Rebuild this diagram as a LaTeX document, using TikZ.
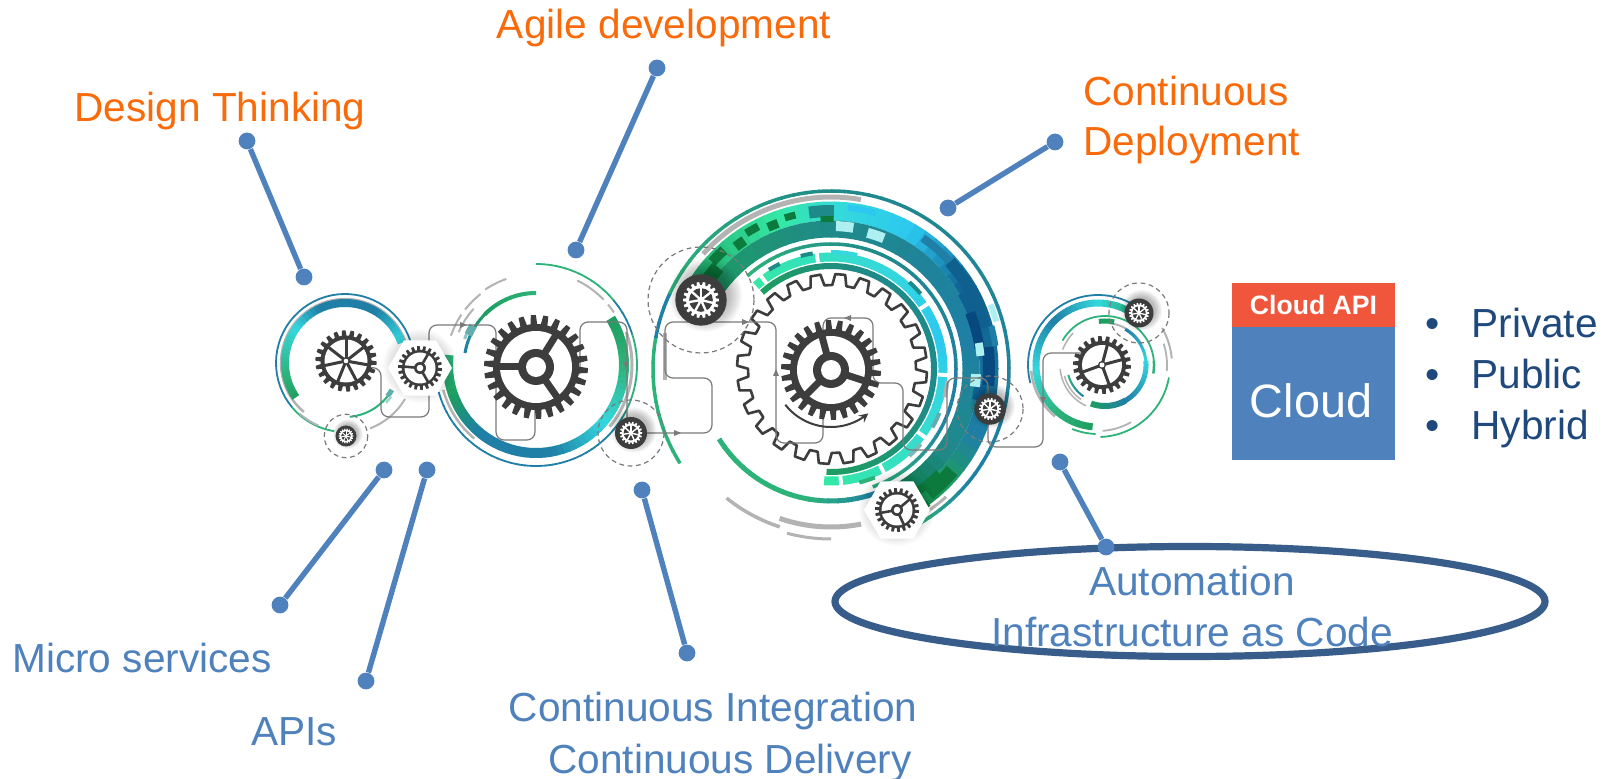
\documentclass[tikz,border=0pt]{standalone}
\usepackage{fontspec}
\setmainfont{Liberation Sans}
\usetikzlibrary{shapes.geometric}
\definecolor{dk}{HTML}{3D3D3D}
\definecolor{orng}{HTML}{F96A0A}
\definecolor{blu}{HTML}{4F81BD}
\definecolor{navy}{HTML}{1F497D}
\definecolor{ell}{HTML}{385D8A}
\definecolor{red1}{HTML}{F0563C}
\definecolor{gr}{HTML}{2DB37A}
\definecolor{grd}{HTML}{1E9E60}
\definecolor{grv}{HTML}{0C7A3C}
\definecolor{grl}{HTML}{34E8A4}
\definecolor{tl}{HTML}{1F8A8A}
\definecolor{tb}{HTML}{1F7FA6}
\definecolor{bl}{HTML}{0F5F8F}
\definecolor{bd}{HTML}{07497F}
\definecolor{cy}{HTML}{35D8DE}
\definecolor{cs}{HTML}{2CC8F0}
\definecolor{gy}{HTML}{B3B3B3}
\definecolor{ln}{HTML}{7A7A7A}
\tikzset{
  lbl/.style={inner sep=0pt,font=\fontsize{20.3}{24}\selectfont},
  pindot/.style={circle,fill=blu,inner sep=0pt,minimum size=8.4pt},
  pinline/.style={draw=blu,line width=2.7pt},
  wire/.style={draw=ln,line width=.6pt,rounded corners=4pt},
  dashc/.style={draw=ln,line width=.6pt,dash pattern=on 2.4pt off 1.8pt}
}
\newcommand{\setc}[2]{\def\cx{#1}\def\cy{#2}}
\newcommand{\sa}[5]{\draw[line width=#2*0.5pt,color=#5,line cap=butt] plot[domain=#3:#4,samples=40] ({\cx+#1*cos(\x)},{\cy+#1*sin(\x)});}
\newcommand{\bk}[5]{\draw[line width=#2*0.5pt,color=#5,line cap=butt] plot[domain=#3:#4,samples=6] ({\cx+#1*cos(\x)},{\cy+#1*sin(\x)});}
\newcommand{\ga}[6]{%
  \pgfmathtruncatemacro\nseg{max(1,abs(#4-#3)/4)}%
  \foreach \k in {1,...,\nseg}{%
    \pgfmathsetmacro\aA{#3+(#4-#3)*(\k-1)/\nseg}%
    \pgfmathsetmacro\aB{#3+(#4-#3)*\k/\nseg+0.5*(#4-#3)/abs(#4-#3)}%
    \pgfmathtruncatemacro\pc{100*(\k-.5)/\nseg}%
    \draw[line width=#2*0.5pt,color=#6!\pc!#5,line cap=butt] plot[domain=\aA:\aB,samples=4] ({\cx+#1*cos(\x)},{\cy+#1*sin(\x)});
  }}
\newcommand{\teeth}[7]{%
  \pgfmathsetmacro\st{360/#6}%
  \pgfmathtruncatemacro\lastt{#6-1}%
  \path[#1] ({#2+#5*cos(#7-.32*\st)},{#3+#5*sin(#7-.32*\st)})
  \foreach \i [evaluate=\i as \a using #7+\i*\st] in {0,...,\lastt}{
    -- ({#2+#5*cos(\a-.32*\st)},{#3+#5*sin(\a-.32*\st)})
    -- ({#2+#4*cos(\a-.2*\st)},{#3+#4*sin(\a-.2*\st)})
    -- ({#2+#4*cos(\a+.2*\st)},{#3+#4*sin(\a+.2*\st)})
    -- ({#2+#5*cos(\a+.32*\st)},{#3+#5*sin(\a+.32*\st)})
  } -- cycle;}
\newcommand{\gear}[9]{%
  \teeth{fill=dk}{#1}{#2}{#3}{#4}{#6}{4}
  \fill[white] (#1,#2) circle[radius=#5];
  \def\gx{#1}\def\gy{#2}\def\gi{#5}\def\gh{#7}\def\gw{#9}\def\gk{#8}\gearb}
\newcommand{\gearb}[1]{%
  \foreach \s in {#1}{\draw[dk,line width=\gw*0.5pt] (\gx,\gy) -- ({\gx+(\gi+1)*cos(\s)},{\gy+(\gi+1)*sin(\s)});}
  \fill[dk] (\gx,\gy) circle[radius=\gh];
  \fill[white] (\gx,\gy) circle[radius=\gk];}
\newcommand{\shadowat}[3]{%
  \foreach \q in {1,...,8}{\fill[black,opacity=.035] ({#1+#3*.18},{#2-#3*.18}) circle[radius={#3*(.85+\q*.07)}];}}
\newcommand{\wheel}[3]{%
  \shadowat{#1}{#2}{#3}
  \fill[dk] (#1,#2) circle[radius=#3];
  \pgfmathsetmacro\ro{#3*.70}\pgfmathsetmacro\rr{#3*.58}\pgfmathsetmacro\ri{#3*.46}
  \teeth{fill=white}{#1}{#2}{\ro}{\rr}{18}{0}
  \fill[dk] (#1,#2) circle[radius=\ri];
  \foreach \s in {270,322,14,66,118,170,222}{\draw[white,line width=#3*.045pt] (#1,#2) -- ({#1+\ri*1.05*cos(\s)},{#2+\ri*1.05*sin(\s)});}
  \fill[white] (#1,#2) circle[radius={#3*.13}];}
\newcommand{\hexa}[3]{%
  \foreach \q in {1,...,6}{\fill[black,opacity=.02] ({#1},{#2-2}) circle[radius={#3*(.85+\q*.05)}];}
  \fill[white] ({#1+#3},#2) -- ({#1+#3*.5},{#2+#3*.866}) -- ({#1-#3*.5},{#2+#3*.866}) -- ({#1-#3},#2) -- ({#1-#3*.5},{#2-#3*.866}) -- ({#1+#3*.5},{#2-#3*.866}) -- cycle;}
\newcommand{\tri}[3]{\fill[ln,shift={(#1,#2)},rotate=#3] (4,0) -- (-3,-3) -- (-3,3) -- cycle;}
\begin{document}
\begin{tikzpicture}[x=0.5pt,y=-0.5pt]
\useasboundingbox (0,0) rectangle (1604,779);
\fill[white] (0,0) rectangle (1604,779);

\setc{831}{369}
\ga{178}{3.5}{148}{190}{gr}{gr}
\ga{178}{3.5}{190}{205}{tb}{tb}
\ga{178}{3.5}{205}{270}{gr}{tl}
\ga{178}{3.5}{270}{400}{tl}{tb}
\ga{178}{3.5}{400}{420}{tb}{gr}
\ga{158}{19}{205}{250}{grd}{grl}
\ga{158}{19}{250}{275}{grl}{cy}
\ga{158}{19}{275}{300}{cy}{cs}
\ga{158}{19}{300}{330}{cs}{bl}
\ga{158}{19}{330}{385}{bl}{tb}
\ga{158}{19}{385}{405}{tb}{grd}
\ga{158}{19}{405}{424}{grd}{grv}
\ga{140}{17}{205}{270}{grd}{tl}
\ga{140}{17}{270}{345}{tl}{tb}
\ga{140}{17}{345}{395}{tb}{tl}
\ga{140}{17}{395}{426}{tl}{grv}
\sa{172}{5}{222}{280}{gy}
\foreach \p/\q/\r/\w/\c in {
 222/228/160/10/grv,232/236/155/10/grv,238/243/160/8/grv,246/250/155/9/grv,253/257/158/7/grv,
 210/222/152/14/grv,
 262/271/158/12/tl,266/271/150/6/grv,276/286/162/6/cs,
 305/322/160/8/tb,318/330/160/12/bl,330/345/156/18/bl,338/352/150/10/bd,352/366/158/12/bd,
 345/352/166/6/tb,366/372/150/12/bl,372/378/160/16/tb,
 400/412/158/14/grv,404/418/150/8/grv,414/420/166/6/grv}{\bk{\r}{\w}{\p}{\q}{\c}}
\foreach \p/\q/\r/\w in {272/279/143/10,285/292/141/10,338/344/172/6,350/355/150/8,362/367/145/10}{\bk{\r}{\w}{\p}{\q}{cy!40!white}}
\sa{172}{3}{408}{416}{gy}
\ga{125}{3.5}{228}{290}{gr}{tl}
\ga{125}{3.5}{290}{380}{tl}{tb}
\ga{125}{3.5}{380}{430}{tb}{gr}
\ga{112}{9}{228}{300}{grl}{cy}
\ga{112}{9}{300}{345}{cy}{cs}
\ga{112}{9}{345}{375}{cs}{cy}
\ga{112}{9}{375}{453}{cy}{grl}
\foreach \p in {232,262,325,362,395,422,444}{\pgfmathsetmacro\qq{\p+2}\bk{112}{10}{\p}{\qq}{white}}
\foreach \p/\q/\c in {238/244/tl,255/261/tl,270/283/cy,312/320/tl,366/374/gy,382/390/tl!70!white,400/408/tl!60!white,428/436/gr}{\bk{117}{4}{\p}{\q}{\c}}
\ga{103}{6}{228}{290}{grd}{tl}
\ga{103}{6}{290}{375}{tl}{tl}
\ga{103}{6}{375}{452}{tl}{grd}
\ga{132}{5}{148}{100}{gr}{gr}
\ga{132}{5}{100}{70}{gr}{tb}
\sa{166}{3.5}{129}{108}{gy}
\sa{158}{5}{109}{79}{gy}
\sa{170}{3}{105}{90}{gy}
\teeth{draw=dk,line width=1.3pt,line join=round}{832}{369}{95}{84}{24}{5}
\draw[gy,line width=1.6pt] (665,333) -- (665,380);

\setc{536}{365}
\ga{101}{1.8}{270}{320}{gr}{gr}
\ga{101}{1.8}{320}{342}{tb}{tb}
\ga{101}{1.8}{342}{378}{gr}{gr}
\ga{101}{1.8}{378}{400}{gr}{tb}
\ga{101}{1.8}{400}{524}{tb}{tb}
\ga{88}{10}{328}{360}{grd}{gr}
\ga{88}{10}{360}{400}{gr}{cy}
\ga{88}{10}{400}{440}{cy}{tb}
\ga{88}{10}{440}{490}{tb}{tb}
\ga{88}{10}{490}{520}{tb}{grd}
\ga{88}{10}{520}{546}{grd}{gr}
\sa{96}{3}{340}{400}{gy}
\sa{96}{2.5}{490}{525}{gy}
\sa{94}{2}{296}{316}{gy}
\sa{94}{2}{320}{326}{gy}
\sa{90}{2}{199}{214}{gy}
\sa{84}{2}{203}{222}{gy}
\sa{90}{2}{218}{232}{gy}
\sa{91}{2}{236}{251}{gy}
\ga{72}{4}{270}{225}{gr}{grd}
\ga{72}{3}{225}{190}{grd}{tb}
\bk{74}{8}{204}{212}{tl!70!white}
\bk{76}{3}{200}{204}{tl!50!white}

\setc{345}{363}
\sa{69}{1.8}{99}{140}{gr}
\sa{69}{1.8}{140}{341}{tb}
\sa{64}{2.5}{130}{340}{gy}
\ga{60}{8}{145}{168}{grd}{gr}
\ga{60}{8}{168}{215}{gr}{cy}
\ga{60}{8}{215}{245}{cy}{tb}
\ga{60}{8}{245}{300}{tb}{tb}
\ga{60}{8}{300}{340}{tb}{cy}
\sa{54}{2}{85}{30}{gr}
\bk{54}{5}{38}{30}{tl!70!white}
\bk{57}{2.5}{44}{36}{tl!40!white}
\sa{70}{2}{69}{31}{gy}
\sa{68}{2}{132}{113}{gy}

\setc{1098}{365}
\sa{70}{1.8}{165}{300}{tb}
\sa{67}{2.5}{130}{175}{gy}
\ga{62}{7}{95}{130}{grd}{gr}
\ga{62}{7}{130}{175}{gr}{cy}
\ga{62}{7}{175}{225}{cy}{tb}
\ga{62}{7}{225}{270}{tb}{cy}
\ga{62}{7}{270}{312}{cy}{grd}
\sa{69}{1.8}{92}{112}{gr}
\sa{72}{1.8}{10}{88}{gr}
\sa{66}{1.8}{86}{60}{gy}
\sa{69}{1.8}{-18}{5}{gy}
\sa{74}{2}{-30}{-5}{gy}
\setc{1105}{365}
\sa{49}{1.8}{210}{360}{gr}
\sa{49}{2.5}{10}{-5}{gr}
\sa{42}{2}{-85}{-30}{gy}
\sa{45}{1.5}{200}{225}{gy}
\ga{41}{6}{110}{60}{grd}{tb}
\ga{41}{5}{60}{-5}{tb}{cy}
\ga{41}{3}{-5}{-60}{cy}{tb}
\bk{44}{5}{262}{282}{grd}
\sa{45}{1.5}{115}{175}{gy}
\sa{42}{1.5}{125}{165}{gy}
\ga{38}{2}{165}{125}{gr}{tb}

\draw[wire] (327,366) -- (381,368) -- (381,417) -- (429,417) -- (429,325) -- (496,325) -- (496,440) -- (535,440) -- (535,378) -- (580,378) -- (580,322) -- (627,322) -- (627,433);
\draw[wire] (631,433) -- (712,433) -- (712,378) -- (665,378) -- (665,322) -- (776,322) -- (776,443) -- (823,443) -- (823,318) -- (873,318) -- (873,383) -- (903,383) -- (903,450) -- (947,450) -- (947,378) -- (988,378) -- (988,447) -- (1043,447) -- (1043,353) -- (1097,353);
\tri{463}{325}{0}\tri{745}{322}{0}\tri{677}{433}{0}\tri{776}{373}{90}\tri{848}{318}{180}\tri{626}{365}{-90}\tri{1043}{400}{-90}

\draw[dashc] (346,436) circle[radius=21.7];
\draw[dashc] (631,433) circle[radius=33];
\draw[dashc] (701,300) circle[radius=53];
\draw[dashc] (990,409) circle[radius=33];
\draw[dashc] (1139,313) circle[radius=30];

\hexa{420}{368}{32}
\hexa{897}{510}{33}
\gear{346}{361}{30.7}{25.5}{21.5}{22}{4}{2.3}{3}{270,322,10,62,112,168,218}
\gear{420}{368}{22}{18}{15.5}{22}{6}{3.3}{2.6}{300,185,60}
\gear{536}{367}{52}{43}{36}{26}{18}{10}{7}{180,55,-58}
\gear{831}{370}{50}{41}{34}{26}{18}{10}{7}{255,18,135}
\gear{897}{510}{22}{18}{15.5}{22}{6}{3.3}{2.6}{320,170,65}
\gear{1102}{365}{29}{24}{20}{22}{4}{2.5}{3}{285,345,70,160}
\draw[dk,line width=1pt,-stealth] plot[domain=142:50,samples=40] ({831+58*cos(\x)},{369+58*sin(\x)});

\wheel{346}{436}{10.5}
\wheel{631}{433}{16}
\wheel{701}{300}{25.7}
\wheel{990}{409}{15.7}
\wheel{1139}{313}{14.5}

\node[ellipse,draw=ell,line width=3.6pt,inner sep=0pt,minimum width=355pt,minimum height=55pt] (oval) at (1190,601.5) {};

\node[lbl,text=orng] (t1) at (664,28) {Agile development};
\node[lbl,text=orng] (t2) at (220,111) {Design Thinking};
\node[lbl,text=orng,anchor=west] (t3) at (1083,91) {Continuous};
\node[lbl,text=orng,anchor=west] (t4) at (1083,145) {Deployment};
\node[lbl,text=blu] (t5) at (142,658) {Micro services};
\node[lbl,text=blu] (t6) at (294,732) {APIs};
\node[lbl,text=blu] (t7) at (713,711) {Continuous Integration};
\node[lbl,text=blu] (t8) at (730,763) {Continuous Delivery};
\node[lbl,text=blu] (t9) at (1192,581) {Automation};
\node[lbl,text=blu] (t10) at (1192,632) {Infrastructure as Code};

\node[pindot] (a1) at (247,141) {}; \node[pindot] (a2) at (304,277) {};
\node[pindot] (b1) at (657,68) {};  \node[pindot] (b2) at (576,250) {};
\node[pindot] (c1) at (1055,142) {};\node[pindot] (c2) at (948,208) {};
\node[pindot] (d1) at (384,470) {}; \node[pindot] (d2) at (280,605) {};
\node[pindot] (e1) at (427,470) {}; \node[pindot] (e2) at (366,681) {};
\node[pindot] (f1) at (642,490) {}; \node[pindot] (f2) at (687,653) {};
\node[pindot] (g1) at (1060,462) {};\node[pindot] (g2) at (1106,547) {};
\draw[pinline] (a1) -- (a2);
\draw[pinline] (b1) -- (b2);
\draw[pinline] (c1) -- (c2);
\draw[pinline] (d1) -- (d2);
\draw[pinline] (e1) -- (e2);
\draw[pinline] (f1) -- (f2);
\draw[pinline] (g1) -- (g2);

\node[fill=blu,inner sep=0pt,minimum width=81.5pt,minimum height=66.5pt,text=white] (cloud) at (1313.5,393.5) {};
\node[text=white,inner sep=0pt,font=\fontsize{23.4}{28}\selectfont] (cloudt) at (1311,401) {Cloud};
\node[fill=red1,inner sep=0pt,minimum width=81.5pt,minimum height=22pt,text=white,font=\bfseries\fontsize{13.3}{16}\selectfont] (capi) at (1313.5,305) {Cloud API};

\node[lbl,text=navy,anchor=west] (p) at (1471,323) {Private};
\node[lbl,text=navy,anchor=west] (q) at (1471,374) {Public};
\node[lbl,text=navy,anchor=west] (r) at (1471,429) {Hybrid};
\node[lbl,text=navy] (bp) at (1433,328) {•};
\node[lbl,text=navy] (bq) at (1433,379) {•};
\node[lbl,text=navy] (br) at (1433,430) {•};
\end{tikzpicture}
\end{document}
